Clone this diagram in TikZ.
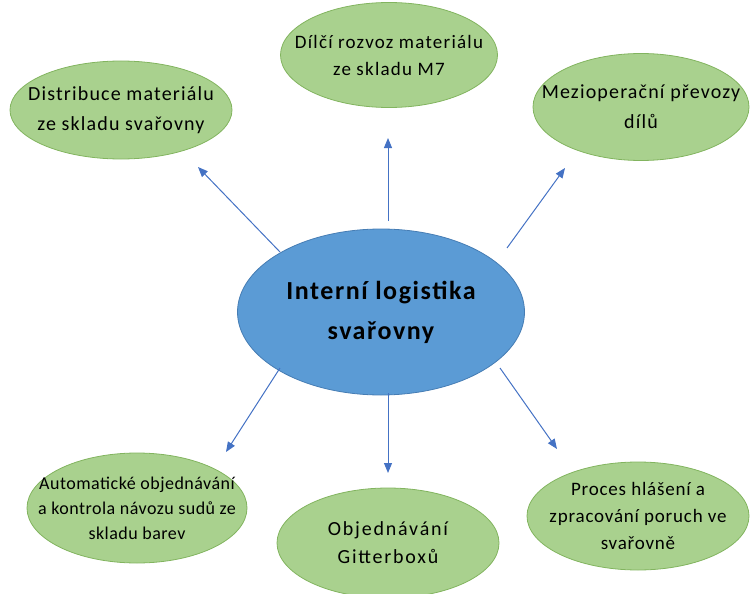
\documentclass[tikz,border=0pt]{standalone}
\usepackage{fontspec}
\setmainfont{Carlito}
\usetikzlibrary{shapes.geometric,arrows.meta}
\definecolor{gfill}{RGB}{169,209,142}
\definecolor{gline}{RGB}{130,180,95}
\definecolor{bfill}{RGB}{91,155,213}
\definecolor{bline}{RGB}{70,125,180}
\definecolor{arr}{RGB}{68,114,196}
\newcommand{\ls}[1]{\addfontfeature{LetterSpace=#1}}
\tikzset{
  leaf/.style={ellipse, draw=gline, line width=0.8pt, fill=gfill, inner xsep=-60pt, inner ysep=-30pt, align=center, text=black},
  hub/.style={ellipse, draw=bline, line width=0.8pt, fill=bfill, inner xsep=-60pt, inner ysep=-30pt, align=center, text=black, font=\bfseries\fontsize{26}{40}\selectfont\ls{6}},
  conn/.style={draw=arr, line width=1pt, -{Triangle[length=10pt,width=8pt]}}
}
\begin{document}
\begin{tikzpicture}[x=1pt,y=-1pt]
\useasboundingbox (0,0) rectangle (750,594);
\node[hub, minimum width=287pt, minimum height=166pt] (c) at (381,312) {Interní logistika\\svařovny};
\node[leaf, minimum width=222pt, minimum height=98pt, font=\fontsize{20}{30}\selectfont\ls{5.8}] (tl) at (121,110) {Distribuce materiálu\\ze skladu svařovny};
\node[leaf, minimum width=217pt, minimum height=105pt, font=\fontsize{19}{27}\selectfont\ls{6.5}] (tc) at (389,55) {Dílčí rozvoz materiálu\\ze skladu M7};
\node[leaf, minimum width=216pt, minimum height=107pt, font=\fontsize{20}{30}\selectfont\ls{5.8}] (tr) at (641,107) {Mezioperační převozy\\dílů};
\node[leaf, minimum width=220pt, minimum height=110pt, font=\fontsize{18}{25}\selectfont\ls{2.7}] (bl) at (137,508) {Automatické objednávání\\a kontrola návozu sudů ze\\skladu barev};
\node[leaf, minimum width=222pt, minimum height=110pt, font=\fontsize{20}{28}\selectfont\ls{9}] (bc) at (388,543) {Objednávání\\Gitterboxů};
\node[leaf, minimum width=222pt, minimum height=108pt, font=\fontsize{19}{27}\selectfont\ls{4.2}] (br) at (638,516) {Proces hlášení a\\zpracování poruch ve\\svařovně};
\coordinate (s1) at (280,252); \coordinate (e1) at (198,167);
\coordinate (s2) at (388,221); \coordinate (e2) at (388,138);
\coordinate (s3) at (507,248); \coordinate (e3) at (565,168);
\coordinate (s4) at (280,368); \coordinate (e4) at (226,452);
\coordinate (s5) at (388,393); \coordinate (e5) at (388,473);
\coordinate (s6) at (500,368); \coordinate (e6) at (557,449);
\draw[conn] (s1) -- (e1);
\draw[conn] (s2) -- (e2);
\draw[conn] (s3) -- (e3);
\draw[conn] (s4) -- (e4);
\draw[conn] (s5) -- (e5);
\draw[conn] (s6) -- (e6);
\end{tikzpicture}
\end{document}
